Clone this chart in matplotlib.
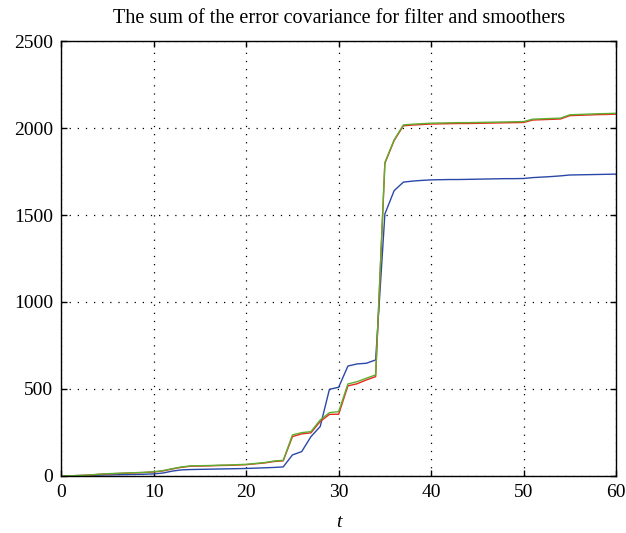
import matplotlib
matplotlib.use("Agg")
import matplotlib.pyplot as plt
import numpy as np

t = np.arange(0, 61)

# filter (blue)
filt = [0, 1, 2, 3, 5, 6, 7, 8, 9, 10,
        12, 17, 28, 35, 37, 38, 39, 40, 41, 42,
        43, 45, 47, 49, 52, 121, 140, 226, 284, 498,
        510, 632, 644, 648, 667, 1506, 1640, 1689, 1695, 1699,
        1702, 1703, 1704, 1704, 1705, 1706, 1707, 1708, 1709, 1709,
        1710, 1715, 1718, 1721, 1725, 1730, 1731, 1732, 1733, 1734,
        1735]

# smoother 1 (red)
smooth1 = [0, 1, 3, 5, 9, 12, 14, 16, 18, 20,
           23, 29, 40, 50, 56, 57, 58, 60, 61, 63,
           65, 70, 75, 83, 87, 226, 242, 248, 313, 354,
           355, 518, 530, 552, 571, 1797, 1928, 2013, 2017, 2020,
           2023, 2024, 2025, 2026, 2026, 2027, 2028, 2029, 2030, 2031,
           2032, 2046, 2048, 2050, 2052, 2071, 2073, 2075, 2077, 2078,
           2080]

# smoother 2 (green)
smooth2 = [0, 1, 3, 5, 10, 13, 15, 17, 19, 21,
           24, 31, 42, 52, 58, 59, 60, 62, 63, 65,
           67, 72, 77, 86, 90, 236, 249, 255, 322, 364,
           370, 529, 542, 562, 581, 1802, 1932, 2018, 2022, 2025,
           2028, 2029, 2030, 2031, 2031, 2032, 2033, 2034, 2035, 2036,
           2037, 2051, 2053, 2055, 2057, 2076, 2078, 2080, 2082, 2083,
           2085]

plt.rcParams["font.family"] = ["Liberation Serif", "DejaVu Serif"]

fig = plt.figure(figsize=(6.26, 5.33), dpi=100)
ax = fig.add_axes([0.098, 0.107, 0.886, 0.816])

ax.plot(t, filt, color="#2a48a8", lw=1.0)
ax.plot(t, smooth1, color="#e8281e", lw=1.0)
ax.plot(t, smooth2, color="#5cb030", lw=1.0)

ax.set_xlim(0, 60)
ax.set_ylim(0, 2500)
ax.set_xticks(np.arange(0, 61, 10))
ax.set_yticks(np.arange(0, 2501, 500))
ax.grid(True, color="black", linestyle=(0, (1.0, 5.5)), lw=0.9)
ax.tick_params(direction="in", top=True, right=True, length=4,
               labelsize=14, width=1, pad=6)
for s in ax.spines.values():
    s.set_linewidth(1.0)

ax.set_title("The sum of the error covariance for filter and smoothers",
             fontsize=14.5, pad=13)
ax.set_xlabel("t", style="italic", fontsize=14, labelpad=9)

fig.savefig("out.png", dpi=100)
